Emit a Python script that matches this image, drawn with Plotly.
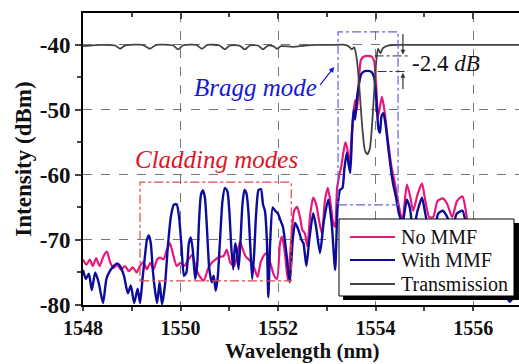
import plotly.graph_objects as go

# ---------------- data ----------------
wl_nommf = [1548.00, 1548.07, 1548.14, 1548.20, 1548.27, 1548.34, 1548.42, 1548.49, 1548.56, 1548.63,
            1548.70, 1548.78, 1548.86, 1548.94, 1549.02, 1549.10, 1549.17, 1549.24, 1549.31, 1549.38,
            1549.45, 1549.52, 1549.58, 1549.65, 1549.72, 1549.78, 1549.84, 1549.92, 1550.00, 1550.08,
            1550.16, 1550.24, 1550.32, 1550.40, 1550.48, 1550.56, 1550.64, 1550.72, 1550.80, 1550.88,
            1550.95, 1551.02, 1551.10, 1551.17, 1551.22, 1551.28, 1551.34, 1551.40, 1551.46, 1551.52,
            1551.58, 1551.64, 1551.70, 1551.77, 1551.84, 1551.92, 1551.98, 1552.04, 1552.08, 1552.14,
            1552.20, 1552.27, 1552.33, 1552.39, 1552.45, 1552.50, 1552.55, 1552.60, 1552.66, 1552.72,
            1552.78, 1552.84, 1552.90, 1552.96, 1553.02, 1553.08, 1553.12, 1553.17, 1553.21, 1553.25,
            1553.30, 1553.34, 1553.38, 1553.42, 1553.46, 1553.50, 1553.54, 1553.58, 1553.62, 1553.66,
            1553.70, 1553.76, 1553.84, 1553.92, 1553.97, 1554.01, 1554.05, 1554.09, 1554.13, 1554.18,
            1554.25, 1554.32, 1554.40, 1554.47, 1554.55, 1554.64, 1554.70, 1554.77, 1554.86, 1554.95,
            1555.02, 1555.10, 1555.18, 1555.27, 1555.38, 1555.47, 1555.57, 1555.67, 1555.78, 1555.86,
            1555.95, 1556.05, 1556.20, 1556.35, 1556.50, 1556.65, 1556.80, 1556.93]
db_nommf = [-73.0, -73.8, -73.0, -74.0, -72.8, -74.0, -72.5, -71.8, -73.5, -74.3,
            -73.8, -74.6, -74.0, -74.8, -74.2, -75.0, -74.0, -73.4, -74.5, -73.5,
            -74.5, -73.0, -72.7, -73.0, -71.5, -70.5, -72.0, -74.0, -73.5, -74.0,
            -73.0, -72.3, -74.5, -75.7, -76.2, -74.5, -73.5, -73.0, -72.6, -72.5,
            -71.5, -73.5, -74.0, -72.0, -70.3, -71.5, -72.6, -73.0, -73.5, -74.5,
            -75.7, -73.5, -72.5, -72.0, -73.5, -75.5, -76.0, -70.5, -69.5, -72.0,
            -76.2, -70.0, -65.5, -64.9, -66.5, -68.5, -69.0, -71.0, -66.0, -63.5,
            -64.5, -67.0, -69.0, -64.0, -62.0, -64.5, -67.0, -68.0, -62.0, -60.3,
            -58.5, -56.5, -55.0, -56.0, -58.8, -55.0, -51.0, -48.5, -50.0, -45.0,
            -42.3, -41.8, -41.7, -41.8, -42.5, -46.0, -51.0, -49.5, -48.0, -50.0,
            -54.5, -58.5, -61.5, -64.5, -67.0, -61.5, -63.0, -65.5, -63.0, -61.3,
            -64.0, -66.5, -66.5, -64.0, -63.6, -64.5, -66.5, -64.0, -63.3, -66.0,
            -72.0, -75.5, -77.0, -76.0, -77.5, -76.5, -78.0, -77.0]

wl_mmf = [1548.00, 1548.06, 1548.12, 1548.18, 1548.25, 1548.32, 1548.41, 1548.48, 1548.55, 1548.62,
          1548.70, 1548.76, 1548.84, 1548.92, 1548.98, 1549.05, 1549.12, 1549.17, 1549.22, 1549.27,
          1549.31, 1549.35, 1549.39, 1549.43, 1549.48, 1549.52, 1549.57, 1549.62, 1549.68, 1549.74,
          1549.80, 1549.86, 1549.92, 1549.97, 1550.02, 1550.07, 1550.12, 1550.17, 1550.21, 1550.25,
          1550.30, 1550.34, 1550.38, 1550.42, 1550.46, 1550.50, 1550.54, 1550.59, 1550.64, 1550.68,
          1550.72, 1550.76, 1550.81, 1550.86, 1550.91, 1550.96, 1551.00, 1551.04, 1551.08, 1551.12,
          1551.15, 1551.19, 1551.23, 1551.27, 1551.31, 1551.35, 1551.39, 1551.43, 1551.47, 1551.51,
          1551.55, 1551.60, 1551.65, 1551.69, 1551.73, 1551.77, 1551.80, 1551.84, 1551.89, 1551.94,
          1552.00, 1552.05, 1552.10, 1552.17, 1552.24, 1552.30, 1552.35, 1552.42, 1552.48, 1552.52,
          1552.58, 1552.64, 1552.72, 1552.78, 1552.86, 1552.94, 1553.03, 1553.10, 1553.17, 1553.22,
          1553.27, 1553.32, 1553.36, 1553.41, 1553.45, 1553.48, 1553.52, 1553.55, 1553.58, 1553.62,
          1553.66, 1553.70, 1553.76, 1553.84, 1553.92, 1553.97, 1554.02, 1554.06, 1554.09, 1554.12,
          1554.16, 1554.20, 1554.27, 1554.35, 1554.42, 1554.48, 1554.55, 1554.64, 1554.70, 1554.77,
          1554.86, 1554.95, 1555.02, 1555.10, 1555.20, 1555.28, 1555.38, 1555.47, 1555.57, 1555.66,
          1555.78, 1555.86, 1555.95, 1556.05, 1556.20, 1556.35, 1556.50, 1556.62, 1556.75, 1556.90]
db_mmf = [-74.6, -76.0, -75.2, -77.7, -75.0, -76.5, -79.7, -76.0, -74.8, -74.1,
          -73.6, -74.0, -75.5, -78.2, -77.0, -79.7, -77.5, -79.7, -76.0, -72.5,
          -70.0, -69.3, -70.5, -74.5, -78.0, -79.7, -76.5, -79.9, -77.0, -71.0,
          -66.5, -64.6, -64.5, -66.5, -71.0, -75.5, -75.0, -70.5, -69.6, -71.5,
          -76.0, -74.0, -67.0, -63.0, -62.4, -63.5, -68.0, -74.5, -76.5, -75.5,
          -77.8, -76.0, -70.0, -64.0, -62.0, -62.5, -65.5, -71.0, -74.5, -70.5,
          -71.5, -74.5, -70.0, -64.5, -62.3, -62.8, -65.5, -71.0, -76.0, -72.0,
          -66.0, -62.3, -62.2, -64.5, -65.5, -70.0, -78.8, -70.0, -65.0, -65.5,
          -66.0, -67.0, -68.0, -72.0, -76.5, -70.0, -67.4, -68.5, -70.0, -70.5,
          -74.0, -70.0, -65.9, -68.0, -72.0, -67.0, -63.8, -67.5, -74.6, -65.0,
          -62.3, -62.0, -59.0, -56.6, -58.5, -59.7, -53.0, -50.0, -51.5, -48.0,
          -46.0, -44.6, -44.1, -44.0, -44.2, -45.0, -49.0, -53.0, -53.5, -51.0,
          -50.5, -52.0, -56.5, -61.0, -63.5, -66.0, -67.5, -63.8, -65.0, -68.5,
          -65.5, -63.5, -66.0, -68.5, -68.5, -66.0, -65.5, -66.5, -68.5, -66.0,
          -65.5, -68.0, -74.0, -77.0, -78.5, -77.5, -79.0, -78.0, -79.5, -78.0]

wl_trans = [1548.00, 1548.40, 1548.66, 1548.76, 1548.86, 1549.22, 1549.37, 1549.50, 1549.85, 1549.95,
            1550.05, 1550.32, 1550.44, 1550.55, 1550.80, 1550.91, 1551.01, 1551.21, 1551.32, 1551.42,
            1551.59, 1551.69, 1551.79, 1551.90, 1551.98, 1552.06, 1552.30, 1552.55, 1552.80, 1553.10,
            1553.38, 1553.46, 1553.51, 1553.56, 1553.60, 1553.64, 1553.68, 1553.73, 1553.78, 1553.83,
            1553.88, 1553.93, 1553.98, 1554.02, 1554.05, 1554.10, 1554.15, 1554.25, 1554.60, 1555.20,
            1555.80, 1556.40, 1556.94]
db_trans = [-40.2, -40.0, -40.1, -40.6, -40.1, -40.0, -40.6, -40.0, -40.1, -40.7,
            -40.1, -40.0, -40.6, -40.0, -40.1, -40.7, -40.1, -40.1, -40.7, -40.1,
            -40.1, -40.7, -40.1, -40.2, -40.6, -40.2, -40.3, -40.1, -40.0, -40.0,
            -40.0, -40.3, -40.7, -40.4, -41.5, -44.0, -48.0, -53.0, -56.2, -56.8,
            -56.0, -52.0, -46.0, -42.0, -40.6, -41.3, -40.5, -40.1, -40.0, -40.0,
            -40.0, -40.0, -40.0]

series_names = ["No MMF", "With MMF", "Transmission"]
x_ticks = [1548, 1550, 1552, 1554, 1556]
x_ticklabels = ["1548", "1550", "1552", "1554", "1556"]
y_ticks = [-80, -70, -60, -50, -40]
y_ticklabels = ["-80", "-70", "-60", "-50", "-40"]

PINK = "#e8187a"
NAVY = "#0c0c9c"
GREY = "#444444"
SERIF = "Liberation Serif"

fig = go.Figure()
fig.add_trace(go.Scatter(x=wl_nommf, y=db_nommf, mode="lines", name=series_names[0],
                         line=dict(color=PINK, width=2.2, shape="spline", smoothing=0.6),
                         showlegend=False))
fig.add_trace(go.Scatter(x=wl_mmf, y=db_mmf, mode="lines", name=series_names[1],
                         line=dict(color=NAVY, width=2.4, shape="spline", smoothing=0.6),
                         showlegend=False))
fig.add_trace(go.Scatter(x=wl_trans, y=db_trans, mode="lines", name=series_names[2],
                         line=dict(color=GREY, width=1.8, shape="spline", smoothing=0.6),
                         showlegend=False))
# invisible trace so the top (mirror) axis is drawn
fig.add_trace(go.Scatter(x=[1548], y=[-80], xaxis="x2", mode="markers",
                         marker=dict(opacity=0), showlegend=False, hoverinfo="skip"))

XR = [1548, 1556.94]
YR = [-80, -35.1]

fig.update_layout(
    width=519, height=364,
    margin=dict(l=83, r=0, t=13, b=59),
    paper_bgcolor="white", plot_bgcolor="white",
    font=dict(family=SERIF, color="black"),
    xaxis=dict(range=XR, tickvals=x_ticks, ticktext=["<b>%s</b>" % t for t in x_ticklabels],
               ticks="outside", ticklen=4, tickwidth=2,
               showline=True, linewidth=2, linecolor="black",
               showgrid=True, gridcolor="#777777", griddash="dash", gridwidth=1,
               zeroline=False,
               minor=dict(dtick=1, ticks="outside", ticklen=4, tickwidth=2, showgrid=False),
               tickfont=dict(family=SERIF, size=20, color="#111111")),
    xaxis2=dict(range=XR, overlaying="x", side="top", anchor="y", showticklabels=False,
                tickvals=x_ticks, ticks="inside", ticklen=6, tickwidth=2,
                showline=True, linewidth=2, linecolor="black", showgrid=False, zeroline=False,
                minor=dict(dtick=1, ticks="inside", ticklen=4, tickwidth=2)),
    yaxis=dict(range=YR, tickvals=y_ticks, ticktext=["<b>%s</b>" % t for t in y_ticklabels],
               ticks="outside", ticklen=6, tickwidth=2,
               showline=True, linewidth=2, linecolor="black",
               showgrid=True, gridcolor="#777777", griddash="dash", gridwidth=1,
               zeroline=False,
               minor=dict(dtick=5, ticks="outside", ticklen=4, tickwidth=2, showgrid=False),
               tickfont=dict(family=SERIF, size=23, color="#111111"),
               title=dict(text="<b>Intensity (dBm)</b>", font=dict(family=SERIF, size=23, color="#111111"),
                          standoff=2)),
)

# x-axis title placed as a paper annotation just below the tick labels
fig.add_annotation(x=(302.5 - 83) / 436.0, y=-(364 - 305) / 292.0, xref="paper", yref="paper",
                   text="<b>Wavelength (nm)</b>", showarrow=False, xanchor="center", yanchor="bottom",
                   borderpad=0, font=dict(family=SERIF, size=21, color="#111111"))

# --- dash-dot boxes ---
fig.add_shape(type="rect", xref="x", yref="y", x0=1549.17, x1=1552.27, y0=-76.3, y1=-61.1,
              line=dict(color="#e04848", width=1.2, dash="dashdot"), layer="above")
fig.add_shape(type="rect", xref="x", yref="y", x0=1553.23, x1=1554.46, y0=-64.6, y1=-38.0,
              line=dict(color="#6a60d8", width=1.2, dash="dashdot"), layer="above")

# --- -2.4 dB reference lines ---
fig.add_shape(type="line", xref="x", yref="y", x0=1553.98, x1=1554.66, y0=-41.7, y1=-41.7,
              line=dict(color="#333333", width=1, dash="dashdot"))
fig.add_shape(type="line", xref="x", yref="y", x0=1554.04, x1=1554.66, y0=-44.1, y1=-44.1,
              line=dict(color="#333333", width=1, dash="dashdot"))
fig.add_annotation(x=1554.56, y=-41.5, ax=1554.56, ay=-38.1, xref="x", yref="y", axref="x", ayref="y",
                   text="", showarrow=True, arrowhead=2, arrowsize=0.8, arrowwidth=1.2, arrowcolor="#333333")
fig.add_annotation(x=1554.56, y=-44.3, ax=1554.56, ay=-47.0, xref="x", yref="y", axref="x", ayref="y",
                   text="", showarrow=True, arrowhead=2, arrowsize=0.8, arrowwidth=1.2, arrowcolor="#333333")
fig.add_annotation(x=1555.45, y=-42.8, xref="x", yref="y", text="-2.4 <i>dB</i>", showarrow=False,
                   font=dict(family=SERIF, size=23, color="#111111"))

# --- text labels ---
fig.add_annotation(x=1550.73, y=-57.7, xref="x", yref="y", text="<i>Cladding modes</i>", showarrow=False,
                   font=dict(family=SERIF, size=25, color="#e01525"))
fig.add_annotation(x=1551.53, y=-46.6, xref="x", yref="y", text="<i>Bragg mode</i>", showarrow=False,
                   font=dict(family=SERIF, size=25, color="#1818d8"))
fig.add_annotation(x=1553.15, y=-43.4, ax=1552.84, ay=-46.4, xref="x", yref="y", axref="x", ayref="y",
                   text="", showarrow=True, arrowhead=2, arrowsize=0.9, arrowwidth=1.2, arrowcolor="#1818d8")

# --- legend (drawn manually to match box/shadow style) ---
def px(xp):
    return (xp - 83) / 436.0

def py(yp):
    return (305 - yp) / 292.0

fig.add_shape(type="rect", xref="paper", yref="paper", x0=px(343), x1=px(519), y0=py(300), y1=py(223),
              fillcolor="black", line=dict(width=0), layer="above")
fig.add_shape(type="rect", xref="paper", yref="paper", x0=px(339), x1=px(514), y0=py(296), y1=py(219),
              fillcolor="white", line=dict(color="black", width=1), layer="above")
leg_colors = [PINK, NAVY, GREY]
leg_y = [237, 260, 284]
for name, col, yy in zip(series_names, leg_colors, leg_y):
    fig.add_shape(type="line", xref="paper", yref="paper", x0=px(350), x1=px(395), y0=py(yy), y1=py(yy),
                  line=dict(color=col, width=2.2), layer="above")
    fig.add_annotation(x=px(399), y=py(yy), xref="paper", yref="paper", text=name, showarrow=False,
                       xanchor="left", yanchor="middle",
                       font=dict(family=SERIF, size=20, color="#111111"))

fig.write_html("out.html")
